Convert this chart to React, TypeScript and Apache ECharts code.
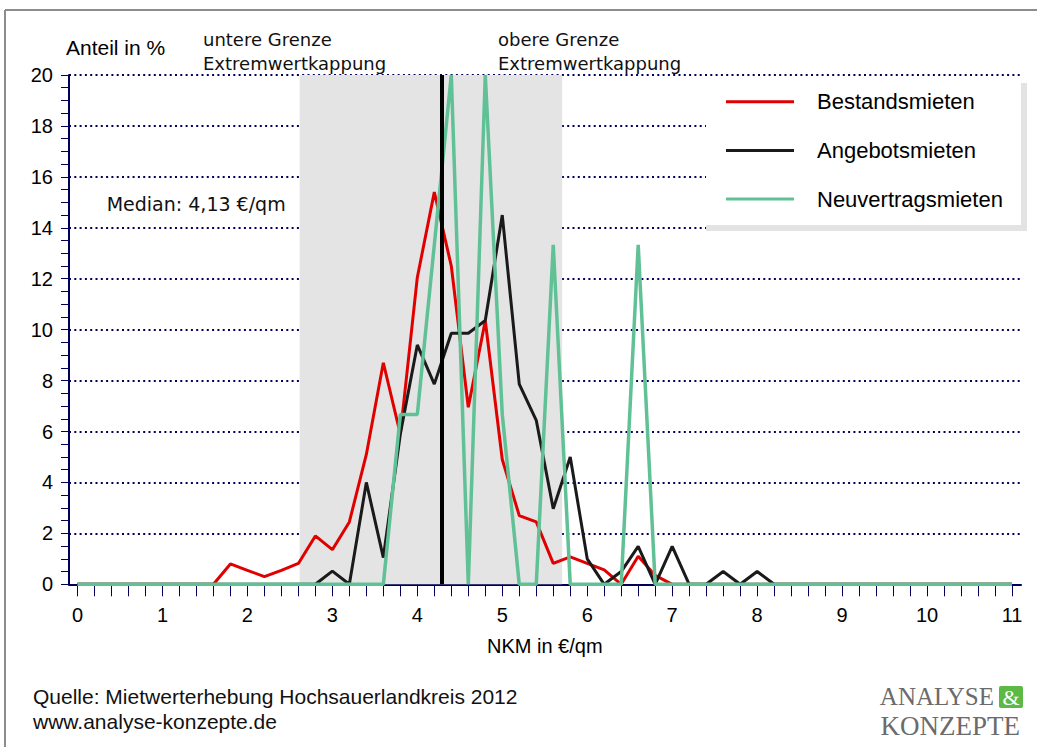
import React, { useEffect, useRef } from 'react';
import * as echarts from 'echarts';

// NKM classes (€/qm)
const binCenters = [
  0, 0.2, 0.4, 0.6, 0.8, 1, 1.2, 1.4, 1.6, 1.8, 2, 2.2, 2.4, 2.6, 2.8, 3, 3.2, 3.4, 3.6, 3.8,
  4, 4.2, 4.4, 4.6, 4.8, 5, 5.2, 5.4, 5.6, 5.8, 6, 6.2, 6.4, 6.6, 6.8, 7, 7.2, 7.4, 7.6, 7.8,
  8, 8.2, 8.4, 8.6, 8.8, 9, 9.2, 9.4, 9.6, 9.8, 10, 10.2, 10.4, 10.6, 10.8, 11,
];

const bestandsmieten = [
  0, 0, 0, 0, 0, 0, 0, 0, 0,
  0.8, 0.55, 0.3, 0.55, 0.82, 1.9, 1.36, 2.45, 5.1, 8.7, 5.9, 12.05, 15.4, 12.5, 6.95, 10.35,
  4.9, 2.7, 2.45, 0.82, 1.08, 0.82, 0.57, 0, 1.1, 0.35, 0,
  0, 0, 0, 0, 0, 0, 0, 0, 0, 0, 0, 0, 0, 0, 0, 0, 0, 0, 0, 0,
];

const angebotsmieten = [
  0, 0, 0, 0, 0, 0, 0, 0, 0, 0, 0, 0, 0, 0, 0,
  0.52, 0, 4.0, 1.05, 5.9, 9.4, 7.86, 9.86, 9.86, 10.36, 14.5, 7.86, 6.44, 2.97, 5.0, 1.0,
  0, 0.5, 1.49, 0, 1.49, 0, 0, 0.5, 0, 0.5,
  0, 0, 0, 0, 0, 0, 0, 0, 0, 0, 0, 0, 0, 0, 0,
];

const neuvertragsmieten = [
  0, 0, 0, 0, 0, 0, 0, 0, 0, 0, 0, 0, 0, 0, 0, 0, 0, 0, 0,
  6.67, 6.67, 13.33, 20, 0, 20, 6.67, 0, 0, 13.33, 0, 0, 0, 0, 13.33,
  0, 0, 0, 0, 0, 0, 0, 0, 0, 0, 0, 0, 0, 0, 0, 0, 0, 0, 0, 0, 0, 0,
];

const seriesNames = ['Bestandsmieten', 'Angebotsmieten', 'Neuvertragsmieten'];
const seriesColors = ['#e00000', '#1a1a1a', '#60c196'];
const medianLineX = 4.29;
const cappingBand = [2.615, 5.705];

const NAVY = '#00005a';
const SANS = '"Liberation Sans", Arial, sans-serif';
const DEJAVU = '"DejaVu Sans", sans-serif';
const SERIF = '"Liberation Serif", "Times New Roman", serif';

export default function App() {
  const ref = useRef<HTMLDivElement>(null);

  useEffect(() => {
    const chart = echarts.init(ref.current as HTMLDivElement, null, { renderer: 'svg' });
    const seriesData = [bestandsmieten, angebotsmieten, neuvertragsmieten];

    const lineSeries = seriesData.map((vals, i) => ({
      name: seriesNames[i],
      type: 'line',
      xAxisIndex: 1,
      yAxisIndex: 1,
      data: binCenters.map((x, j) => [x, vals[j]]),
      showSymbol: false,
      symbol: 'none',
      z: 3 + i * 0.1,
      lineStyle: { color: seriesColors[i], width: i === 2 ? 3.5 : 3 },
      itemStyle: { color: seriesColors[i] },
      silent: true,
    }));

    const option: any = {
      animation: false,
      backgroundColor: '#ffffff',
      grid: [
        { left: 69, right: 16, top: 75, bottom: 162.7 },
        { left: 77.5, right: 25, top: 75, bottom: 162.7 },
      ],
      xAxis: [
        {
          type: 'value',
          gridIndex: 0,
          min: 0,
          max: 1,
          axisLine: { show: true, lineStyle: { color: NAVY, width: 2 } },
          axisTick: { show: false },
          axisLabel: { show: false },
          splitLine: { show: false },
        },
        {
          type: 'value',
          gridIndex: 1,
          min: 0,
          max: 11,
          interval: 1,
          name: 'NKM in €/qm',
          nameLocation: 'middle',
          nameGap: 52,
          nameTextStyle: { fontSize: 20, fontFamily: SANS, color: '#000' },
          axisLine: { show: false },
          axisTick: { show: true, length: 12, lineStyle: { color: NAVY, width: 1 } },
          minorTick: { show: true, splitNumber: 5, length: 12, lineStyle: { color: NAVY, width: 1 } },
          axisLabel: { fontSize: 20, fontFamily: SANS, color: '#000', margin: 21 },
          splitLine: { show: false },
        },
      ],
      yAxis: [
        {
          type: 'value',
          gridIndex: 0,
          min: 0,
          max: 20,
          interval: 2,
          z: 1,
          axisLine: { show: true, lineStyle: { color: NAVY, width: 2 } },
          axisTick: { show: true, length: 8, lineStyle: { color: NAVY, width: 1 } },
          minorTick: { show: true, splitNumber: 4, length: 8, lineStyle: { color: NAVY, width: 1 } },
          axisLabel: { fontSize: 20, fontFamily: SANS, color: '#000', margin: 16 },
          splitLine: { show: true, lineStyle: { color: NAVY, width: 2, type: [2, 3.3] } },
        },
        {
          type: 'value',
          gridIndex: 1,
          min: 0,
          max: 20,
          show: false,
        },
      ],
      legend: {
        data: seriesNames,
        orient: 'vertical',
        left: 726,
        top: 89.7,
        padding: 0,
        z: 20,
        icon: 'rect',
        itemWidth: 68,
        itemHeight: 3,
        itemGap: 24.7,
        selectedMode: false,
        textStyle: {
          fontSize: 22,
          fontFamily: SANS,
          color: '#000',
          lineHeight: 24,
          padding: [0, 0, 0, 18],
        },
      },
      graphic: [
        { type: 'line', z: 0, shape: { x1: 5, y1: 10, x2: 1037, y2: 10 }, style: { stroke: '#8c8c8c', lineWidth: 2 } },
        { type: 'line', z: 0, shape: { x1: 5, y1: 10, x2: 5, y2: 747 }, style: { stroke: '#8c8c8c', lineWidth: 2 } },
        { type: 'rect', z: 10, shape: { x: 706, y: 83, width: 321, height: 148 }, style: { fill: '#e3e3e3' } },
        { type: 'rect', z: 11, shape: { x: 706, y: 83, width: 315, height: 142 }, style: { fill: '#ffffff' } },
        { type: 'text', z: 12, x: 66, y: 47.5, style: { text: 'Anteil in %', fontSize: 21, fontFamily: SANS, fill: '#000', align: 'left', verticalAlign: 'middle' } },
        { type: 'text', z: 12, x: 203, y: 39, style: { text: 'untere Grenze', fontSize: 18, fontFamily: DEJAVU, fill: '#111', align: 'left', verticalAlign: 'middle' } },
        { type: 'text', z: 12, x: 203, y: 63, style: { text: 'Extremwertkappung', fontSize: 18, fontFamily: DEJAVU, fill: '#111', align: 'left', verticalAlign: 'middle' } },
        { type: 'text', z: 12, x: 498, y: 39, style: { text: 'obere Grenze', fontSize: 18, fontFamily: DEJAVU, fill: '#111', align: 'left', verticalAlign: 'middle' } },
        { type: 'text', z: 12, x: 498, y: 63, style: { text: 'Extremwertkappung', fontSize: 18, fontFamily: DEJAVU, fill: '#111', align: 'left', verticalAlign: 'middle' } },
        { type: 'text', z: 12, x: 106.7, y: 204, style: { text: 'Median: 4,13 €/qm', fontSize: 19, fontFamily: DEJAVU, fill: '#111', align: 'left', verticalAlign: 'middle' } },
        { type: 'text', z: 12, x: 33, y: 696, style: { text: 'Quelle: Mietwerterhebung Hochsauerlandkreis 2012', fontSize: 21, fontFamily: SANS, fill: '#111', align: 'left', verticalAlign: 'middle' } },
        { type: 'text', z: 12, x: 33, y: 721, style: { text: 'www.analyse-konzepte.de', fontSize: 21, fontFamily: SANS, fill: '#111', align: 'left', verticalAlign: 'middle' } },
        { type: 'text', z: 12, x: 994, y: 696, style: { text: 'ANALYSE', fontSize: 25, fontFamily: SERIF, fill: '#6b6b6b', align: 'right', verticalAlign: 'middle' } },
        { type: 'rect', z: 12, shape: { x: 999, y: 686, width: 24, height: 22, r: 2 }, style: { fill: '#5cb946' } },
        { type: 'text', z: 13, x: 1011, y: 697, style: { text: '&', fontSize: 22, fontFamily: SERIF, fill: '#ffffff', align: 'center', verticalAlign: 'middle' } },
        { type: 'text', z: 12, x: 1020, y: 726, style: { text: 'KONZEPTE', fontSize: 27, fontFamily: SERIF, fill: '#6b6b6b', align: 'right', verticalAlign: 'middle' } },
      ],
      series: [
        {
          name: 'band',
          type: 'line',
          xAxisIndex: 1,
          yAxisIndex: 1,
          data: [],
          z: 0,
          silent: true,
          markArea: {
            silent: true,
            itemStyle: { color: '#e4e4e4' },
            label: { show: false },
            data: [[{ xAxis: cappingBand[0] }, { xAxis: cappingBand[1] }]],
          },
        },
        ...lineSeries,
        {
          name: 'median',
          type: 'line',
          xAxisIndex: 1,
          yAxisIndex: 1,
          data: [],
          z: 5,
          silent: true,
          markLine: {
            silent: true,
            symbol: 'none',
            label: { show: false },
            lineStyle: { color: '#000', width: 4, type: 'solid' },
            data: [{ xAxis: medianLineX }],
          },
        },
      ],
    };

    chart.setOption(option);
    return () => chart.dispose();
  }, []);

  return (
    <div
      ref={ref}
      style={{ position: 'absolute', left: 0, top: 0, width: 1037, height: 747 }}
    />
  );
}
